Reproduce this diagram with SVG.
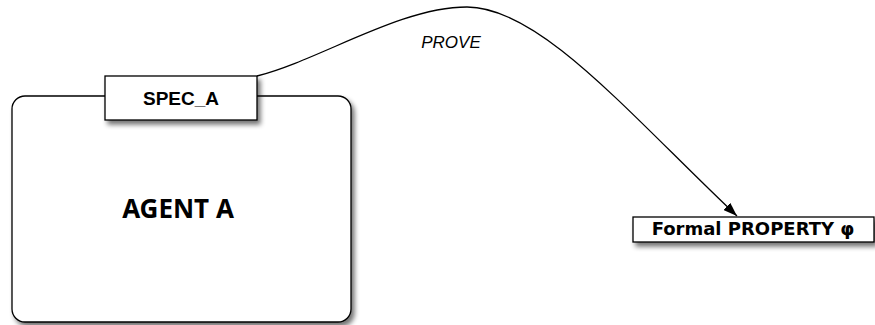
<svg xmlns="http://www.w3.org/2000/svg" width="875" height="325" viewBox="0 0 875 325">
<defs>
<filter id="sh" x="-10%" y="-10%" width="130%" height="150%">
<feGaussianBlur in="SourceAlpha" stdDeviation="2.5"/>
<feOffset dx="3" dy="4" result="b"/>
<feComponentTransfer><feFuncA type="linear" slope="0.55"/></feComponentTransfer>
<feMerge><feMergeNode/><feMergeNode in="SourceGraphic"/></feMerge>
</filter>
<marker id="arr" viewBox="0 0 14 10" refX="14" refY="5" markerWidth="14" markerHeight="10" markerUnits="userSpaceOnUse" orient="auto">
<path d="M0,0 L14,5 L0,10 z" fill="#000"/>
</marker>
<style>
.box{fill:#fff;stroke:#000;stroke-width:1.3}
.t{font-family:"Noto Sans","DejaVu Sans",sans-serif;font-weight:bold;fill:#000;text-anchor:middle}
.d{font-family:"DejaVu Sans",sans-serif;font-weight:bold;fill:#000;text-anchor:middle}
.a{font-family:"Liberation Sans",Arial,sans-serif;font-weight:bold;fill:#000;text-anchor:middle}
.lbl{font-family:"Liberation Sans",Arial,sans-serif;font-style:italic;font-size:17px;fill:#000;text-anchor:middle}
.edge{fill:none;stroke:#000;stroke-width:1.3}
</style>
</defs>
<rect width="875" height="325" fill="#fff"/>
<g id="agentA">
<rect class="box" x="12" y="96" width="339" height="226" rx="13" ry="13" filter="url(#sh)"/>
<text class="t" x="178" y="218" font-size="26">AGENT A</text>
</g>
<g id="specA">
<rect class="box" x="105" y="76" width="152" height="44" filter="url(#sh)"/>
<text class="a" x="181" y="105" font-size="19">SPEC_A</text>
</g>
<g id="property">
<rect class="box" x="633" y="217" width="241" height="25" filter="url(#sh)"/>
<text class="d" x="753" y="235" font-size="18">Formal PROPERTY φ</text>
</g>
<g id="connectors">
<path class="edge" d="M257,76 C320,60 400,7 467,7 C540,7 630,115 737,216" marker-end="url(#arr)"/>
<text class="lbl" x="451" y="48">PROVE</text>
</g>
</svg>
